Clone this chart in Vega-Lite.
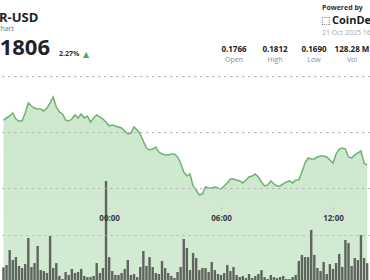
{
  "$schema": "https://vega.github.io/schema/vega-lite/v6.json",
  "width": 370,
  "height": 280,
  "padding": 0,
  "autosize": {"type": "none"},
  "background": "white",
  "config": {"view": {"stroke": null}, "font": "Open Sans", "text": {"font": "Open Sans"}},
  "datasets": {
    "series": [
    {"t":"2025-10-20T18:20","p":0.17607,"v":0.9},
    {"t":"2025-10-20T18:30","p":0.17625,"v":1.07},
    {"t":"2025-10-20T18:40","p":0.17643,"v":2.14},
    {"t":"2025-10-20T18:50","p":0.17670,"v":1.43},
    {"t":"2025-10-20T19:00","p":0.17616,"v":1.64},
    {"t":"2025-10-20T19:10","p":0.17598,"v":1.00},
    {"t":"2025-10-20T19:20","p":0.17598,"v":0.86},
    {"t":"2025-10-20T19:30","p":0.17670,"v":1.14},
    {"t":"2025-10-20T19:40","p":0.17759,"v":3.00},
    {"t":"2025-10-20T19:50","p":0.17732,"v":0.93},
    {"t":"2025-10-20T20:00","p":0.17714,"v":1.21},
    {"t":"2025-10-20T20:10","p":0.17705,"v":2.43},
    {"t":"2025-10-20T20:20","p":0.17705,"v":0.71},
    {"t":"2025-10-20T20:30","p":0.17688,"v":0.64},
    {"t":"2025-10-20T20:40","p":0.17714,"v":0.50},
    {"t":"2025-10-20T20:50","p":0.17759,"v":3.14},
    {"t":"2025-10-20T21:00","p":0.17813,"v":0.86},
    {"t":"2025-10-20T21:10","p":0.17723,"v":1.21},
    {"t":"2025-10-20T21:20","p":0.17679,"v":0.29},
    {"t":"2025-10-20T21:30","p":0.17661,"v":0.07},
    {"t":"2025-10-20T21:40","p":0.17607,"v":0.57},
    {"t":"2025-10-20T21:50","p":0.17598,"v":0.36},
    {"t":"2025-10-20T22:00","p":0.17616,"v":0.79},
    {"t":"2025-10-20T22:10","p":0.17652,"v":0.50},
    {"t":"2025-10-20T22:20","p":0.17625,"v":0.57},
    {"t":"2025-10-20T22:30","p":0.17661,"v":0.79},
    {"t":"2025-10-20T22:40","p":0.17625,"v":0.29},
    {"t":"2025-10-20T22:50","p":0.17643,"v":0.21},
    {"t":"2025-10-20T23:00","p":0.17589,"v":0.21},
    {"t":"2025-10-20T23:10","p":0.17625,"v":0.29},
    {"t":"2025-10-20T23:20","p":0.17652,"v":1.21},
    {"t":"2025-10-20T23:30","p":0.17634,"v":0.50},
    {"t":"2025-10-20T23:40","p":0.17616,"v":0.86},
    {"t":"2025-10-20T23:50","p":0.17589,"v":7.07},
    {"t":"2025-10-21T00:00","p":0.17554,"v":1.64},
    {"t":"2025-10-21T00:10","p":0.17563,"v":0.64},
    {"t":"2025-10-21T00:20","p":0.17554,"v":0.36},
    {"t":"2025-10-21T00:30","p":0.17545,"v":0.36},
    {"t":"2025-10-21T00:40","p":0.17536,"v":0.50},
    {"t":"2025-10-21T00:50","p":0.17509,"v":0.79},
    {"t":"2025-10-21T01:00","p":0.17482,"v":1.43},
    {"t":"2025-10-21T01:10","p":0.17491,"v":0.36},
    {"t":"2025-10-21T01:20","p":0.17545,"v":0.43},
    {"t":"2025-10-21T01:30","p":0.17518,"v":0.21},
    {"t":"2025-10-21T01:40","p":0.17482,"v":0.93},
    {"t":"2025-10-21T01:50","p":0.17420,"v":2.07},
    {"t":"2025-10-21T02:00","p":0.17357,"v":1.00},
    {"t":"2025-10-21T02:10","p":0.17339,"v":1.64},
    {"t":"2025-10-21T02:20","p":0.17348,"v":0.93},
    {"t":"2025-10-21T02:30","p":0.17366,"v":0.50},
    {"t":"2025-10-21T02:40","p":0.17321,"v":0.43},
    {"t":"2025-10-21T02:50","p":0.17304,"v":1.36},
    {"t":"2025-10-21T03:00","p":0.17295,"v":0.86},
    {"t":"2025-10-21T03:10","p":0.17295,"v":0.50},
    {"t":"2025-10-21T03:20","p":0.17304,"v":0.29},
    {"t":"2025-10-21T03:30","p":0.17304,"v":0.14},
    {"t":"2025-10-21T03:40","p":0.17277,"v":0.57},
    {"t":"2025-10-21T03:50","p":0.17223,"v":0.93},
    {"t":"2025-10-21T04:00","p":0.17143,"v":2.93},
    {"t":"2025-10-21T04:10","p":0.17107,"v":2.29},
    {"t":"2025-10-21T04:20","p":0.17125,"v":0.71},
    {"t":"2025-10-21T04:30","p":0.17018,"v":1.93},
    {"t":"2025-10-21T04:40","p":0.16982,"v":1.57},
    {"t":"2025-10-21T04:50","p":0.16938,"v":0.71},
    {"t":"2025-10-21T05:00","p":0.16946,"v":0.86},
    {"t":"2025-10-21T05:10","p":0.17009,"v":0.86},
    {"t":"2025-10-21T05:20","p":0.17000,"v":0.57},
    {"t":"2025-10-21T05:30","p":0.17000,"v":1.29},
    {"t":"2025-10-21T05:40","p":0.17009,"v":0.71},
    {"t":"2025-10-21T05:50","p":0.17000,"v":0.43},
    {"t":"2025-10-21T06:00","p":0.16991,"v":0.36},
    {"t":"2025-10-21T06:10","p":0.17018,"v":0.50},
    {"t":"2025-10-21T06:20","p":0.17045,"v":1.07},
    {"t":"2025-10-21T06:30","p":0.17080,"v":0.64},
    {"t":"2025-10-21T06:40","p":0.17080,"v":0.93},
    {"t":"2025-10-21T06:50","p":0.17071,"v":0.36},
    {"t":"2025-10-21T07:00","p":0.17063,"v":0.21},
    {"t":"2025-10-21T07:10","p":0.17045,"v":0.29},
    {"t":"2025-10-21T07:20","p":0.17071,"v":0.14},
    {"t":"2025-10-21T07:30","p":0.17098,"v":0.43},
    {"t":"2025-10-21T07:40","p":0.17107,"v":0.14},
    {"t":"2025-10-21T07:50","p":0.17125,"v":0.29},
    {"t":"2025-10-21T08:00","p":0.17098,"v":0.43},
    {"t":"2025-10-21T08:10","p":0.17054,"v":0.71},
    {"t":"2025-10-21T08:20","p":0.17018,"v":0.21},
    {"t":"2025-10-21T08:30","p":0.17027,"v":0.07},
    {"t":"2025-10-21T08:40","p":0.17063,"v":0.36},
    {"t":"2025-10-21T08:50","p":0.17036,"v":0.21},
    {"t":"2025-10-21T09:00","p":0.17018,"v":0.14},
    {"t":"2025-10-21T09:10","p":0.17018,"v":0.21},
    {"t":"2025-10-21T09:20","p":0.17036,"v":0.29},
    {"t":"2025-10-21T09:30","p":0.17054,"v":0.07},
    {"t":"2025-10-21T09:40","p":0.17063,"v":0.07},
    {"t":"2025-10-21T09:50","p":0.17045,"v":0.21},
    {"t":"2025-10-21T10:00","p":0.17071,"v":0.36},
    {"t":"2025-10-21T10:10","p":0.17071,"v":1.36},
    {"t":"2025-10-21T10:20","p":0.17143,"v":1.79},
    {"t":"2025-10-21T10:30","p":0.17223,"v":1.64},
    {"t":"2025-10-21T10:40","p":0.17268,"v":1.64},
    {"t":"2025-10-21T10:50","p":0.17259,"v":3.57},
    {"t":"2025-10-21T11:00","p":0.17259,"v":1.79},
    {"t":"2025-10-21T11:10","p":0.17277,"v":0.86},
    {"t":"2025-10-21T11:20","p":0.17286,"v":0.64},
    {"t":"2025-10-21T11:30","p":0.17286,"v":1.29},
    {"t":"2025-10-21T11:40","p":0.17277,"v":0.43},
    {"t":"2025-10-21T11:50","p":0.17250,"v":1.14},
    {"t":"2025-10-21T12:00","p":0.17223,"v":0.79},
    {"t":"2025-10-21T12:10","p":0.17304,"v":1.21},
    {"t":"2025-10-21T12:20","p":0.17348,"v":1.86},
    {"t":"2025-10-21T12:30","p":0.17357,"v":0.93},
    {"t":"2025-10-21T12:40","p":0.17348,"v":2.86},
    {"t":"2025-10-21T12:50","p":0.17277,"v":2.64},
    {"t":"2025-10-21T13:00","p":0.17268,"v":1.00},
    {"t":"2025-10-21T13:10","p":0.17295,"v":1.57},
    {"t":"2025-10-21T13:20","p":0.17313,"v":1.43},
    {"t":"2025-10-21T13:30","p":0.17330,"v":3.21},
    {"t":"2025-10-21T13:40","p":0.17223,"v":1.57},
    {"t":"2025-10-21T13:50","p":0.17205,"v":1.2}
    ],
    "pricegrid": [{"g": 0.18}, {"g": 0.175}, {"g": 0.17}]
  },
  "layer": [
    {
      "data": {"name": "series"},
      "encoding": {
        "x": {
          "field": "t", "type": "temporal",
          "scale": {"domain": [
            {"year": 2025, "month": 10, "date": 20, "hours": 18, "minutes": 25},
            {"year": 2025, "month": 10, "date": 21, "hours": 13, "minutes": 43}
          ], "nice": false},
          "axis": {
            "orient": "bottom", "offset": -73, "title": null, "zindex": 2,
            "values": [
              {"year": 2025, "month": 10, "date": 21, "hours": 0, "minutes": 0},
              {"year": 2025, "month": 10, "date": 21, "hours": 6, "minutes": 0},
              {"year": 2025, "month": 10, "date": 21, "hours": 12, "minutes": 0}
            ],
            "format": "%H:%M", "domain": false, "grid": false,
            "ticks": true, "tickSize": 2, "tickColor": "#bbbbbb",
            "labelFontSize": 8, "labelFontWeight": "bold", "labelColor": "#3a3a3a",
            "labelPadding": 5, "labelFont": "Open Sans"
          }
        }
      },
      "layer": [
        {
          "mark": {"type": "area", "color": {"gradient": "linear", "x1": 0, "y1": 0, "x2": 0, "y2": 1, "stops": [{"offset": 0, "color": "#cde8cd"}, {"offset": 0.45, "color": "#e7f4e7"}, {"offset": 1, "color": "#fbfdfb"}]}},
          "encoding": {
            "y": {
              "field": "p", "type": "quantitative",
              "scale": {"domain": [0.161786, 0.186786], "zero": false, "nice": false},
              "axis": null
            }
          }
        },
        {
          "mark": {"type": "bar", "size": 2.4, "color": "#5f645f"},
          "encoding": {
            "y": {
              "field": "v", "type": "quantitative",
              "scale": {"domain": [0, 20], "nice": false},
              "axis": {"orient": "right", "values": [14.57, 10.57, 6.57, 3.21], "zindex": 1, "labels": false, "ticks": false, "domain": false, "title": null, "grid": true, "gridColor": "#b5b5b5", "gridDash": [2, 4], "gridWidth": 1}
            }
          }
        },
        {
          "mark": {"type": "line", "color": "#6fb072", "strokeWidth": 1.5},
          "encoding": {
            "y": {
              "field": "p", "type": "quantitative",
              "scale": {"domain": [0.161786, 0.186786], "zero": false, "nice": false},
              "axis": null
            }
          }
        }
      ],
      "resolve": {"scale": {"y": "independent"}}
    },
    {
      "data": {"name": "pricegrid"},
      "mark": {"type": "rule", "color": "#b5b5b5", "strokeDash": [2, 4], "strokeWidth": 1, "yOffset": 0.5},
      "encoding": {
        "y": {"field": "g", "type": "quantitative", "scale": {"domain": [0.161786, 0.186786], "zero": false, "nice": false}, "axis": null}
      }
    },
    {"data": {"values": [{"s": "R-USD"}]}, "mark": {"type": "text", "align": "left", "baseline": "alphabetic", "fontSize": 13, "fontWeight": "bold", "color": "#1f2328"}, "encoding": {"x": {"value": -1}, "y": {"value": 22}, "text": {"field": "s"}}},
    {"data": {"values": [{"s": "Chart"}]}, "mark": {"type": "text", "align": "left", "baseline": "alphabetic", "fontSize": 7, "color": "#777777"}, "encoding": {"x": {"value": -4}, "y": {"value": 31}, "text": {"field": "s"}}},
    {"data": {"values": [{"s": "0.1806"}]}, "mark": {"type": "text", "align": "right", "baseline": "alphabetic", "fontSize": 22, "fontWeight": "bold", "color": "#1f2328"}, "encoding": {"x": {"value": 50}, "y": {"value": 55}, "text": {"field": "s"}}},
    {"data": {"values": [{"s": "2.27%"}]}, "mark": {"type": "text", "align": "left", "baseline": "alphabetic", "fontSize": 7, "fontWeight": "bold", "color": "#333333"}, "encoding": {"x": {"value": 59}, "y": {"value": 56}, "text": {"field": "s"}}},
    {"data": {"values": [{"s": "▲"}]}, "mark": {"type": "text", "align": "left", "baseline": "alphabetic", "fontSize": 8, "color": "#4caf50", "font": "DejaVu Sans"}, "encoding": {"x": {"value": 83}, "y": {"value": 57}, "text": {"field": "s"}}},
    {"data": {"values": [{"s": "Powered by"}]}, "mark": {"type": "text", "align": "left", "baseline": "alphabetic", "fontSize": 7, "fontWeight": "bold", "color": "#333333"}, "encoding": {"x": {"value": 322}, "y": {"value": 10}, "text": {"field": "s"}}},
    {"data": {"values": [{"s": "⬚"}]}, "mark": {"type": "text", "align": "left", "baseline": "alphabetic", "fontSize": 10, "fontWeight": "bold", "color": "#222222", "font": "DejaVu Sans"}, "encoding": {"x": {"value": 321}, "y": {"value": 24}, "text": {"field": "s"}}},
    {"data": {"values": [{"s": "CoinDesk"}]}, "mark": {"type": "text", "align": "left", "baseline": "alphabetic", "fontSize": 11, "fontWeight": "bold", "color": "#1a1a1a"}, "encoding": {"x": {"value": 332}, "y": {"value": 24}, "text": {"field": "s"}}},
    {"data": {"values": [{"s": "21 Oct 2025 16:00"}]}, "mark": {"type": "text", "align": "left", "baseline": "alphabetic", "fontSize": 7, "color": "#aaaaaa"}, "encoding": {"x": {"value": 322}, "y": {"value": 35}, "text": {"field": "s"}}},
    {"data": {"values": [{"s": "0.1766"}]}, "mark": {"type": "text", "align": "center", "baseline": "alphabetic", "fontSize": 8, "fontWeight": "bold", "color": "#222222"}, "encoding": {"x": {"value": 234}, "y": {"value": 52}, "text": {"field": "s"}}},
    {"data": {"values": [{"s": "0.1812"}]}, "mark": {"type": "text", "align": "center", "baseline": "alphabetic", "fontSize": 8, "fontWeight": "bold", "color": "#222222"}, "encoding": {"x": {"value": 275}, "y": {"value": 52}, "text": {"field": "s"}}},
    {"data": {"values": [{"s": "0.1690"}]}, "mark": {"type": "text", "align": "center", "baseline": "alphabetic", "fontSize": 8, "fontWeight": "bold", "color": "#222222"}, "encoding": {"x": {"value": 314}, "y": {"value": 52}, "text": {"field": "s"}}},
    {"data": {"values": [{"s": "128.28 M"}]}, "mark": {"type": "text", "align": "center", "baseline": "alphabetic", "fontSize": 8, "fontWeight": "bold", "color": "#222222"}, "encoding": {"x": {"value": 352}, "y": {"value": 52}, "text": {"field": "s"}}},
    {"data": {"values": [{"s": "Open"}]}, "mark": {"type": "text", "align": "center", "baseline": "alphabetic", "fontSize": 7, "color": "#8a8a8a"}, "encoding": {"x": {"value": 234}, "y": {"value": 62}, "text": {"field": "s"}}},
    {"data": {"values": [{"s": "High"}]}, "mark": {"type": "text", "align": "center", "baseline": "alphabetic", "fontSize": 7, "color": "#8a8a8a"}, "encoding": {"x": {"value": 275}, "y": {"value": 62}, "text": {"field": "s"}}},
    {"data": {"values": [{"s": "Low"}]}, "mark": {"type": "text", "align": "center", "baseline": "alphabetic", "fontSize": 7, "color": "#8a8a8a"}, "encoding": {"x": {"value": 314}, "y": {"value": 62}, "text": {"field": "s"}}},
    {"data": {"values": [{"s": "Vol"}]}, "mark": {"type": "text", "align": "center", "baseline": "alphabetic", "fontSize": 7, "color": "#8a8a8a"}, "encoding": {"x": {"value": 352}, "y": {"value": 62}, "text": {"field": "s"}}}
  ],
  "resolve": {"scale": {"y": "independent"}}
}
